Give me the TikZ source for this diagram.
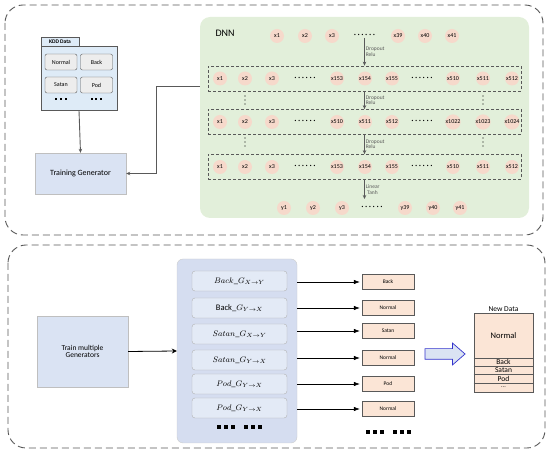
\documentclass[tikz,border=0pt]{standalone}
\usepackage{fontspec}
\setmainfont{Carlito}
\usetikzlibrary{positioning,arrows.meta,shapes.arrows}
\definecolor{edge}{HTML}{595959}
\definecolor{dnnfill}{HTML}{E2EFDA}
\definecolor{unitfill}{HTML}{F6D9CB}
\definecolor{peach}{HTML}{FBE5D6}
\definecolor{paleblue}{HTML}{DAE3F3}
\definecolor{setfill}{HTML}{D5DDF0}
\definecolor{genfill}{HTML}{E3EAF6}
\definecolor{kddblue}{HTML}{DEEBF7}
\definecolor{btngray}{HTML}{EDEDED}
\newcommand\fsz[1]{\fontsize{#1}{#1}\selectfont}
\newcommand\sixdots{·\,·\,·\,·\,·\,·}
\newcommand\sqdots[2]{\rule{#1}{#1}\hspace{#2}\rule{#1}{#1}\hspace{#2}\rule{#1}{#1}}

\begin{document}
\begin{tikzpicture}[x=1pt,y=-1pt,>={Stealth[length=4pt,width=3.5pt]},
  frame/.style={draw=edge,dash pattern=on 7pt off 4pt,rounded corners=18pt,line width=0.9pt},
  unit/.style={circle,fill=unitfill,inner sep=0pt,minimum size=14pt,font=\fsz{6}},
  gap/.style={font=\fsz{9},inner sep=0pt},
  vgap/.style={line width=1.3pt,line cap=round,dash pattern=on 0pt off 4pt},
  layer/.style={draw=edge,dash pattern=on 3pt off 2pt,line width=0.7pt,minimum width=313pt,minimum height=25pt,inner sep=0pt},
  btn/.style={draw=edge,fill=btngray,rounded corners=2pt,minimum width=32pt,minimum height=16pt,inner sep=0pt,font=\fsz{6}},
  genbox/.style={draw=gray!60,fill=genfill,rounded corners=3pt,minimum width=95pt,minimum height=20pt,inner sep=0pt,font=\fsz{8.5}},
  tag/.style={draw=edge,fill=peach,minimum width=52pt,minimum height=15pt,inner sep=0pt,font=\fsz{5.5}},
  flow/.style={->,edge,line width=0.9pt},
  note/.style={right,align=left,font=\fsz{5.5},inner sep=1pt}]
\useasboundingbox (0,0) rectangle (550,454);

% top part
\draw[frame] (5,5) rectangle (543,235);
\node[fill=dnnfill,rounded corners=10pt,minimum width=329pt,minimum height=201pt] (dnn) at (364.5,117.5) {};
\node[anchor=west,font=\fsz{10}] (dnnlabel) at (212,33) {DNN};

\node[draw=edge,fill=kddblue,minimum width=38pt,minimum height=9pt,inner sep=0pt,font=\fsz{5.5}\bfseries] (kddtab) at (60,41.5) {KDD Data};
\node[draw=edge,fill=kddblue,minimum width=76pt,minimum height=64pt,line width=0.8pt] (kdd) at (79,78) {};
\node[btn] (normal) at (61,62) {Normal};
\node[btn] (back) at (96.5,62) {Back};
\node[btn] (satan) at (61,85) {Satan};
\node[btn] (pod) at (96.5,85) {Pod};
\node (kdots1) at (61,99) {\sqdots{2pt}{2.5pt}};
\node (kdots2) at (96.5,99) {\sqdots{2pt}{2.5pt}};
\node[draw=gray!50,fill=paleblue,minimum width=91pt,minimum height=41pt,font=\fsz{8}] (train) at (80.5,173.5) {Training Generator};
\draw[flow] (kdd.south) -- (train.north);
\draw[flow] ([yshift=-70pt]dnn.north west) -- ++(-43,0) |- (train.east);

% input and output rows
\foreach \px/\lab [count=\i] in {277/x1,305/x2,332/x3,398/x39,425/x40,452/x41}
  \node[unit] (in\i) at (\px,36) {\lab};
\node[gap] (indots) at (364.5,36) {\sixdots};
\foreach \px/\lab [count=\i] in {284/y1,313/y2,342/y3,405/y39,433/y40,460/y41}
  \node[unit] (out\i) at (\px,208) {\lab};
\node[gap] (outdots) at (372,208) {\sixdots};

% hidden layers
\node[layer] (box1) at (364.5,78.5) {};
\node[layer] (box2) at (364.5,122) {};
\node[layer] (box3) at (364.5,167) {};
\foreach \px/\lab [count=\i] in {220/x1,245/x2,272/x3,337/x153,365/x154,392/x155,453/x510,483/x511,512/x512} {
  \node[unit] (a\i) at (\px,78.5) {\lab};
  \node[unit] (c\i) at (\px,167) {\lab};
}
\foreach \px/\lab [count=\i] in {220/x1,245/x2,272/x3,337/x510,365/x511,392/x512,453/x1022,483/x1023,512/x1024}
  \node[unit] (b\i) at (\px,122) {\lab};
\foreach \r/\py in {a/78.5,b/122,c/167} {
  \node[gap] (\r dots1) at (305,\py) {\sixdots};
  \node[gap] (\r dots2) at (422,\py) {\sixdots};
}
\foreach \py in {96,138} {
  \draw[vgap] (245,\py) -- ++(0,8);
  \draw[vgap] (483,\py) -- ++(0,8);
}
\coordinate (yin) at (364.5,199);
\draw[flow,line width=0.7pt] (indots.south -| box1.north) -- (box1.north) node[note,midway] {Dropout\\Relu};
\draw[flow,line width=0.7pt] (box1.south) -- (box2.north) node[note,midway] {Dropout\\Relu};
\draw[flow,line width=0.7pt] (box2.south) -- (box3.north) node[note,midway] {Dropout\\Relu};
\draw[flow,line width=0.7pt] (box3.south) -- (yin) node[note,midway] {Linear\\\ Tanh};

% bottom part
\draw[frame] (8,245) rectangle (545,448);
\node[draw=gray!50,fill=paleblue,minimum width=91pt,minimum height=71pt,align=center,font=\fsz{7.5}] (multi) at (82.5,351.5) {Train multiple\\Generators};
\node[draw=gray!40,fill=setfill,rounded corners=6pt,minimum width=120pt,minimum height=184pt] (genset) at (237,351) {};
\draw[->,>={Stealth[length=5pt,width=5pt]},line width=0.8pt] (multi.east) -- (genset.west);

\node[genbox] (g1) at (239.5,281) {$Back\_G_{X\to Y}$};
\node[genbox] (g2) at (239.5,308) {$\mathrm{Back}\_G_{Y\to X}$};
\node[genbox] (g3) at (239.5,334) {$Satan\_G_{X\to Y}$};
\node[genbox] (g4) at (239.5,360) {$Satan\_G_{Y\to X}$};
\node[genbox] (g5) at (239.5,384) {$Pod\_G_{Y\to X}$};
\node[genbox] (g6) at (239.5,408) {$Pod\_G_{Y\to X}$};
\node (gdots) at (239.5,427) {\sqdots{4pt}{3pt}\hspace{9pt}\sqdots{4pt}{3pt}};

\node[tag] (p1) at (388,282) {Back};
\node[tag] (p2) at (388,308) {Normal};
\node[tag] (p3) at (388,331) {Satan};
\node[tag] (p4) at (388,358) {Normal};
\node[tag] (p5) at (388,384) {Pod};
\node[tag] (p6) at (388,409) {Normal};
\node (pdots) at (388,432) {\sqdots{4pt}{3pt}\hspace{9pt}\sqdots{4pt}{3pt}};
\foreach \i in {1,...,6}
  \draw[-{Latex[length=6pt,width=4.5pt]},line width=0.6pt] (genset.east |- p\i.west) -- ([xshift=-2pt]p\i.west);

\node[single arrow,draw=blue!60!gray,fill=paleblue,line width=0.7pt,minimum height=40pt,inner xsep=0pt,inner ysep=5pt,single arrow head extend=5.5pt,single arrow tip angle=82] (merge) at (442,354) {};

\node[draw=edge,fill=peach,minimum width=59pt,minimum height=79pt,line width=0.8pt] (newdata) at (503.5,352.5) {};
\node[above,font=\fsz{7.5},inner sep=1pt] (newlabel) at (newdata.north) {New Data};
\foreach \py in {358,366,374,383}
  \draw[edge,line width=0.7pt] (newdata.west |- 0,\py) -- (newdata.east |- 0,\py);
\node[font=\fsz{8.5}] (nnormal) at (503.5,336) {Normal};
\node[font=\fsz{7.5},inner sep=0pt] (nback) at (503.5,362) {Back};
\node[font=\fsz{7.5},inner sep=0pt] (nsatan) at (503.5,370) {Satan};
\node[font=\fsz{7.5},inner sep=0pt] (npod) at (503.5,378.5) {Pod};
\node[font=\fsz{6},inner sep=0pt] (nmore) at (503.5,387.5) {...};
\end{tikzpicture}
\end{document}
